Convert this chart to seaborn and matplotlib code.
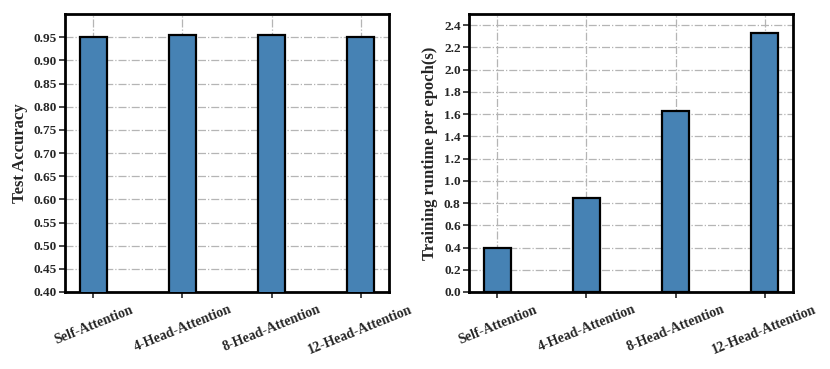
import numpy as np
import pandas as pd
import seaborn as sns
import matplotlib.pyplot as plt

sns.set_style("white")
plt.rcParams['font.family'] = ['Liberation Serif', 'DejaVu Serif']
plt.rcParams['font.weight'] = 'bold'

models = ['Self-Attention', '4-Head-Attention', '8-Head-Attention', '12-Head-Attention']
accuracy = [0.951, 0.955, 0.955, 0.951]
runtime = [0.40, 0.845, 1.63, 2.325]

df = pd.DataFrame({'model': models, 'acc': accuracy, 'time': runtime})

fig = plt.figure(figsize=(8.3, 3.69), dpi=100)
ax1 = fig.add_axes([65 / 830, 77 / 369, 324 / 830, 278 / 369])
ax2 = fig.add_axes([469 / 830, 77 / 369, 324 / 830, 278 / 369])

for ax, key, ylabel, ylim, ticks in (
        (ax1, 'acc', 'Test Accuracy', (0.4, 1.0), np.arange(0.40, 0.96, 0.05)),
        (ax2, 'time', 'Training runtime per epoch(s)', (0.0, 2.5), np.arange(0.0, 2.41, 0.2))):
    sns.barplot(data=df, x='model', y=key, color='#4682b4', saturation=1,
                width=0.3, edgecolor='black', linewidth=1.6, ax=ax, zorder=3)
    ax.set_ylim(*ylim)
    ax.set_xlim(-0.32, 3.32)
    ax.set_yticks(ticks)
    if key == 'acc':
        ax.set_yticklabels([f'{t:.2f}' for t in ticks])
    else:
        ax.set_yticklabels([f'{t:.1f}' for t in ticks])
    ax.grid(True, linestyle='-.', color='#b5b5b5', linewidth=0.9, zorder=0)
    ax.set_axisbelow(True)
    for sp in ax.spines.values():
        sp.set_linewidth(2.0)
        sp.set_color('black')
    ax.tick_params(axis='both', direction='out', length=4, width=1.2,
                   labelsize=9.5, pad=2, bottom=True, left=True)
    ax.tick_params(axis='x', labelsize=10, pad=4)
    ax.set_xlabel('')
    ax.set_ylabel(ylabel, fontsize=12, fontweight='bold', labelpad=4)
    for lab in ax.get_xticklabels():
        lab.set_rotation(22)
        lab.set_ha('center')
        lab.set_fontweight('bold')
    for lab in ax.get_yticklabels():
        lab.set_fontweight('bold')

plt.savefig('out.png', dpi=100)
